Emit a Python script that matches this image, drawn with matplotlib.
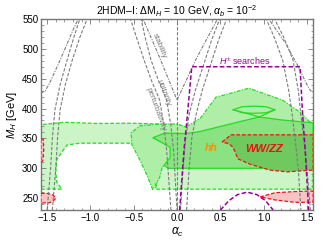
import numpy as np
import matplotlib
matplotlib.use("Agg")
import matplotlib.pyplot as plt
from matplotlib.ticker import MultipleLocator, FuncFormatter

plt.rcParams['font.family'] = ['Liberation Sans', 'DejaVu Sans']
plt.rcParams['mathtext.fontset'] = 'custom'
plt.rcParams['mathtext.rm'] = 'Liberation Sans'
plt.rcParams['mathtext.it'] = 'Liberation Sans:italic'

# ---- region outlines (alpha_c, M_H) ----
# light green region (dashed border), hole opens on the bottom edge
r1_a = [-1.571, -1.33, -1.33, -1.39, -1.40, -1.39, -1.33, -1.27, -1.12, -0.54, -0.43, -0.39,
        -0.35, -0.28, -0.23, -0.25, 1.571, 1.571, 1.2, 0.83, 0.45, 0.1, 0.0, -0.2, -0.55,
        -0.92, -1.3, -1.571]
r1_m = [265, 265, 265, 277, 294, 314, 327, 339, 342, 342, 336, 326,
        309, 294, 277, 265, 265, 376, 393, 393, 384, 364, 370, 374, 375.5,
        375, 377, 373]
# medium green region (dash-dot border)
r2_a = [-0.28, -0.35, -0.43, -0.52, -0.53, -0.43, -0.2, 0.01, 0.10, 0.27, 0.45, 0.83,
        1.22, 1.42, 1.571, 1.571, -0.17, -0.2]
r2_m = [264, 289, 314, 339, 359, 371, 374, 374, 369, 384, 419, 434,
        414, 394, 372, 305, 303, 285]
# hh region (solid border)
r3_a = [-0.28, -0.14, 0.09, 0.25, 0.5, 0.95, 1.2, 1.571, 1.571, 1.55, 1.45, -0.1, -0.15,
        -0.08, -0.08, -0.2]
r3_m = [351, 359, 358, 361, 370, 386, 381, 376, 306, 303, 300, 300, 305,
        318, 335, 345]
# extra solid contour pieces (closed loop and crossing lines)
loop_a = [0.65, 0.75, 0.89, 1.03, 1.13, 1.03, 0.89, 0.75, 0.65]
loop_m = [398, 403, 404, 403, 398, 393, 392, 393, 398]
cross1_a = [0.65, 0.95]
cross1_m = [398, 386]
cross2_a = [0.95, 1.13]
cross2_m = [386, 398]
# WW/ZZ region (red dashed)
r4_a = [0.52, 0.59, 0.62, 1.571, 1.571, 1.27, 1.07, 0.84, 0.70, 0.67, 0.64, 0.60]
r4_m = [344, 352, 356, 356, 297, 294, 297, 307, 316, 328, 336, 341]
# pink regions
pl_a = [-1.571, -1.545, -1.54, -1.55, -1.571]
pl_m = [350, 348, 330, 313, 310]
pb_a = [-1.571, -1.49, -1.43, -1.40, -1.43, -1.48, -1.571]
pb_m = [258, 258, 255, 250, 245, 242, 242]
pr_a = [0.96, 1.13, 1.36, 1.571, 1.571, 1.36, 1.13]
pr_m = [252, 259, 261, 262, 243, 243, 247]

# H+- searches (purple)
hs_a = [0.03, 0.08, 0.12, 0.17, 1.42, 1.45, 1.48, 1.52]
hs_m = [230, 330, 390, 470, 470, 390, 330, 230]
arc_a = [0.50, 0.60, 0.70, 0.81, 0.92, 1.02, 1.11]
arc_m = [230, 246, 256, 260, 256, 246, 230]

# gray bounds: unitarity / perturbativity legs
ll_m = [230, 300, 350, 398, 440, 481, 520, 560]
ll_a1 = [-1.50, -1.46, -1.44, -1.41, -1.35, -1.27, -1.19, -1.10]
ll_a2 = [-1.44, -1.40, -1.38, -1.35, -1.29, -1.21, -1.12, -1.01]
lr_m = [560, 520, 481, 445, 414, 370, 330, 230]
lr_a1 = [-0.43, -0.37, -0.30, -0.21, -0.12, -0.07, -0.04, 0.0]
lr_a2 = [-0.56, -0.47, -0.38, -0.29, -0.20, -0.15, -0.12, -0.07]
rl_m = [230, 300, 350, 390, 430, 470, 515, 560]
rl_a1 = [0.04, 0.07, 0.10, 0.14, 0.21, 0.30, 0.40, 0.52]
rl_a2 = [0.11, 0.14, 0.17, 0.22, 0.29, 0.38, 0.48, 0.60]
rr_m = [560, 520, 481, 430, 389, 340, 300, 230]
rr_a1 = [1.00, 1.12, 1.22, 1.29, 1.33, 1.37, 1.40, 1.43]
rr_a2 = [1.09, 1.23, 1.34, 1.40, 1.43, 1.47, 1.50, 1.54]
# stability
st1_a = [-1.571, -1.52, -1.47, -1.35, -1.20, -1.12]
st1_m = [426, 430, 443, 481, 532, 556]
st2_a = [-0.41, -0.2, 0.0, 0.22, 0.49]
st2_m = [556, 485, 414, 483, 556]
st3_a = [1.03, 1.25, 1.39, 1.50, 1.54, 1.571]
st3_m = [556, 510, 473, 440, 430, 428]

gray = '#7c7c7c'
green = '#22dd22'

fig = plt.figure(figsize=(3.32, 2.46), dpi=100)
ax = fig.add_axes([0.1235, 0.146, 0.8195, 0.777])

ax.fill(r1_a, r1_m, facecolor='#cbf5c7', edgecolor=green, ls=(0, (3, 1.5)), lw=0.9, zorder=1)
ax.fill(r2_a, r2_m, facecolor='#aeeea6', edgecolor=green, ls=(0, (3, 1.2, 1, 1.2)), lw=0.9, zorder=2)
ax.fill(r3_a, r3_m, facecolor='#8ae282', edgecolor=green, ls='-', lw=0.9, zorder=3)
ax.plot(loop_a, loop_m, color=green, lw=0.9, zorder=3)
ax.plot(cross1_a, cross1_m, color=green, lw=0.9, zorder=3)
ax.plot(cross2_a, cross2_m, color=green, lw=0.9, zorder=3)
ax.fill(r4_a, r4_m, facecolor='#6fc95f', edgecolor='#ee1111', ls=(0, (3, 1.5)), lw=0.9, zorder=4)
for a, m in [(pl_a, pl_m), (pb_a, pb_m), (pr_a, pr_m)]:
    ax.fill(a, m, facecolor='#f7c4c4', edgecolor='#ee1111', ls=(0, (3, 1.5)), lw=0.9, zorder=4)

for a1, a2, m in [(ll_a1, ll_a2, ll_m), (lr_a1, lr_a2, lr_m),
                  (rl_a1, rl_a2, rl_m), (rr_a1, rr_a2, rr_m)]:
    ax.plot(a1, m, color=gray, ls=(0, (3, 1.5)), lw=0.8, zorder=5)
    ax.plot(a2, m, color=gray, ls=(0, (3, 1.5)), lw=0.8, zorder=5)
for a, m in [(st1_a, st1_m), (st2_a, st2_m), (st3_a, st3_m)]:
    ax.plot(a, m, color=gray, ls=(0, (3, 1.2, 1, 1.2)), lw=0.8, zorder=5)
ax.axvline(0, color=gray, ls=(0, (3, 1.5)), lw=0.8, zorder=5)

ax.plot(hs_a, hs_m, color='#990099', ls=(0, (3, 1.5)), lw=1.1, zorder=6)
ax.plot(arc_a, arc_m, color='#990099', ls=(0, (3, 1.5)), lw=1.1, zorder=6)

ax.text(-0.2, 505, 'stability', color=gray, fontsize=5.8, rotation=-67,
        ha='center', va='center', zorder=7)
ax.text(-0.15, 426, 'unitarity', color=gray, fontsize=5.8, rotation=-70,
        ha='center', va='center', zorder=7)
ax.text(-0.25, 398, 'perturbativity', color=gray, fontsize=5.8, rotation=-70,
        ha='center', va='center', zorder=7)
ax.text(0.785, 480, r'$H^{\pm}$ searches', color='#990099', fontsize=6.5,
        ha='center', va='center', zorder=7)
ax.text(0.39, 334, 'hh', color='#ff8c00', fontsize=7.5, fontweight='bold',
        style='italic', ha='center', va='center', zorder=7)
ax.text(1.0, 332, 'WW/ZZ', color='#ee1111', fontsize=8, fontweight='bold',
        style='italic', ha='center', va='center', zorder=7)

ax.set_xlim(-np.pi / 2, np.pi / 2)
ax.set_ylim(230, 550)
ax.xaxis.set_major_locator(MultipleLocator(0.5))
ax.xaxis.set_minor_locator(MultipleLocator(0.1))
ax.xaxis.set_major_formatter(FuncFormatter(lambda v, p: ('%.1f' % v).replace('-', '−')))
ax.yaxis.set_major_locator(MultipleLocator(50))
ax.yaxis.set_minor_locator(MultipleLocator(10))
ax.tick_params(which='both', direction='in', top=True, right=True, color='#777777',
               labelsize=7, pad=2)
ax.tick_params(which='major', length=3.5, width=0.6)
ax.tick_params(which='minor', length=1.8, width=0.5)
for s in ax.spines.values():
    s.set_color('#777777')
    s.set_linewidth(1.0)

ax.set_xlabel(r'$\alpha_c$', fontsize=8.5, labelpad=2)
ax.set_ylabel(r'$M_H$ [GeV]', fontsize=8, labelpad=2)
ax.set_title(r'2HDM–I: $\Delta$M$_H$ = 10 GeV, $\alpha_b$ = 10$^{-2}$', fontsize=7.5, pad=2)

fig.savefig('out.png', dpi=100)
